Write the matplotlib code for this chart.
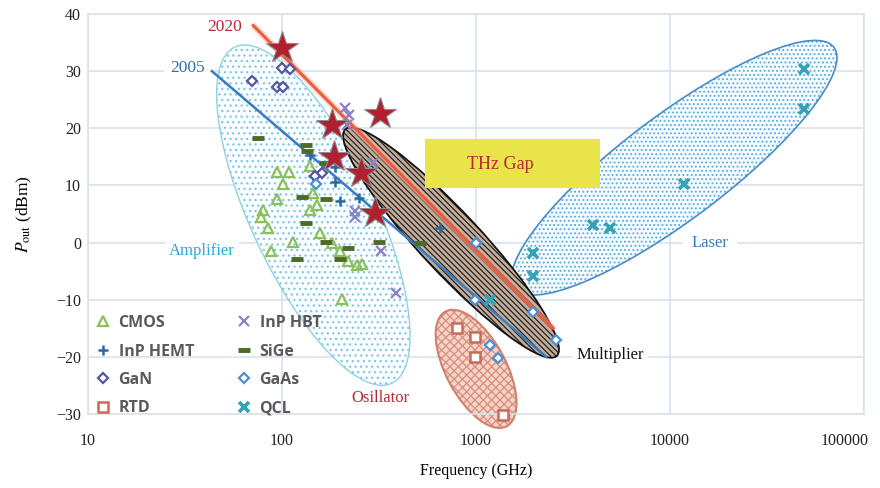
import numpy as np
import matplotlib
matplotlib.use("Agg")
from matplotlib import pyplot as plt
from matplotlib.patches import Ellipse, Rectangle
from matplotlib.transforms import ScaledTranslation

plt.rcParams['font.family'] = ['Liberation Serif', 'DejaVu Serif']
plt.rcParams['mathtext.fontset'] = 'stix'

# ---- data (frequency in GHz, output power in dBm) ----
cmos_f = [94, 109, 101, 94, 139, 144, 151, 139, 80, 78, 85, 157, 114, 180, 88, 199, 220, 243, 258, 203]
cmos_p = [12.3, 12.3, 10.2, 7.7, 13.4, 8.7, 6.6, 5.7, 5.7, 4.4, 2.6, 1.6, 0.1, 0.0, -1.4, -1.5, -3.2, -3.9, -3.8, -9.8]

hbt_f = [211, 221, 216, 296, 237, 237, 325, 387]
hbt_p = [23.5, 22.3, 20.6, 13.9, 5.5, 4.4, -1.4, -8.8]

hemt_f = [140, 187, 145, 187, 200, 250, 650]
hemt_p = [15.3, 13.3, 11.6, 10.6, 7.2, 7.8, 2.5]

sige_f = [75, 133, 135, 167, 127, 169, 133, 169, 220, 315, 119, 198, 514]
sige_p = [18.3, 17.1, 16.0, 13.9, 7.9, 7.7, 3.5, 0.1, -0.9, 0.1, -2.8, -2.9, 0.0]

gan_f = [70, 100, 110, 94, 101, 148, 160]
gan_p = [28.2, 30.5, 30.3, 27.2, 27.2, 11.7, 12.1]

gaas_f = [150, 1000, 990, 1960, 2580, 1180, 1290]
gaas_p = [10.3, 0.0, -10.0, -12.1, -17.0, -18.0, -20.2]

rtd_f = [795, 990, 990, 1380]
rtd_p = [-15.0, -16.6, -20.1, -30.1]

qcl_f = [1180, 4000, 4900, 1970, 1970, 11800, 49000, 49000]
qcl_p = [-10.0, 3.1, 2.6, -1.9, -5.9, 10.2, 30.3, 23.4]

star_f = [100, 180, 185, 320, 255, 300]
star_p = [34.0, 20.5, 15.0, 22.5, 12.2, 5.2]

trend2020_f = [71, 2500]
trend2020_p = [38.0, -15.0]
trend2005_f = [43.5, 2300]
trend2005_p = [30.0, -20.0]

xticks = [10, 100, 1000, 10000, 100000]
xtick_labels = ['10', '100', '1000', '10000', '100000']
yticks = [-30, -20, -10, 0, 10, 20, 30, 40]
ytick_labels = ['\u221230', '\u221220', '\u221210', '0', '10', '20', '30', '40']

fig = plt.figure(figsize=(8.8, 4.88), dpi=100)
ax = fig.add_axes([0.1, 0.1516, 0.882, 0.8197])
ax.set_xscale('log')
ax.set_xlim(10, 100000)
ax.set_ylim(-30, 40)
ax.set_xticks(xticks, labels=xtick_labels)
ax.minorticks_off()
ax.set_yticks(yticks, labels=ytick_labels)
ax.tick_params(length=0, labelsize=11.5, colors='#222222')
ax.tick_params(axis='x', pad=14)
ax.tick_params(axis='y', pad=5)
# last x label pulled left so it stays inside the picture
lab = ax.get_xticklabels()[-1]
lab.set_transform(lab.get_transform() + ScaledTranslation(-0.2, 0, fig.dpi_scale_trans))
ax.grid(True, color='#d8e2ec', lw=1.2)
ax.set_axisbelow(True)
for s in ax.spines.values():
    s.set_color('#d8e2ec')
    s.set_linewidth(1.2)
ax.set_xlabel('Frequency (GHz)', fontsize=11.5, labelpad=10)
ax.set_ylabel(r'$P_{\rm out}$ (dBm)', fontsize=12.5, labelpad=16)


def blob(f, p, w, h, ang, face, hatchc, hatch, edge, lw, z):
    tr = fig.dpi_scale_trans + ScaledTranslation(f, p, ax.transData)
    e1 = Ellipse((0, 0), w / 100, h / 100, angle=ang, transform=tr, facecolor=face,
                 edgecolor=hatchc, hatch=hatch, lw=0, zorder=z, clip_on=False)
    e2 = Ellipse((0, 0), w / 100, h / 100, angle=ang, transform=tr, fill=False,
                 edgecolor=edge, lw=lw, zorder=z, clip_on=False)
    ax.add_patch(e1)
    ax.add_patch(e2)


plt.rcParams['hatch.linewidth'] = 0.9
# Amplifier / Laser / Oscillator / Multiplier regions
blob(145, 4.8, 371, 125, -65, '#fbfdff', '#7cc8ea', '...', '#8fd2e6', 1.0, 1)
blob(10500, 13.1, 400, 104, 37, '#f6fbff', '#5aaee0', '....', '#4a8cc8', 1.2, 1)
blob(1000, -22.1, 130, 60, -62, '#f4d3c8', '#d98e7c', 'xxxx', '#d2806e', 1.5, 1)
blob(743, 0, 310, 60, -47, '#c4ae9b', '#222222', '\\\\\\\\\\\\', '#111111', 1.3, 2)

# trend lines
ax.plot(trend2020_f, trend2020_p, color='#f7b8a8', lw=5, alpha=0.5, zorder=3, solid_capstyle='butt')
ax.plot(trend2020_f, trend2020_p, color='#ef5a3c', lw=2.2, zorder=3)
ax.plot(trend2005_f, trend2005_p, color='#3a7cc2', lw=1.8, zorder=3)

ax.add_patch(Rectangle((546, 9.6), 4355 - 546, 18.2 - 9.6, facecolor='#e9e44a', edgecolor='none', zorder=2))
ax.text(1330, 13.6, 'THz Gap', color='#b8283a', fontsize=13, ha='center', va='center', zorder=4)

wb = dict(facecolor='white', edgecolor='none', pad=3)
ax.text(50.8, 37.7, '2020', color='#b8283a', fontsize=12.5, ha='center', va='center', bbox=wb, zorder=4)
ax.text(32.4, 30.6, '2005', color='#2f6fae', fontsize=12.5, ha='center', va='center',
        bbox=dict(facecolor='white', edgecolor='none', pad=4), zorder=4)
ax.text(38.7, -1.4, 'Amplifier', color='#29a8dc', fontsize=12, ha='center', va='center', bbox=wb, zorder=4)
ax.text(16100, 0, 'Laser', color='#3c7dbf', fontsize=12, ha='center', va='center',
        bbox=dict(facecolor='white', edgecolor='none', pad=6), zorder=4)
ax.text(4900, -19.7, 'Multiplier', color='#111111', fontsize=12, ha='center', va='center', bbox=wb, zorder=4)
ax.text(320, -27.2, 'Osillator', color='#b8283a', fontsize=12, ha='center', va='center', bbox=wb, zorder=4)

# device series
kw = dict(linestyle='none', zorder=5, clip_on=False)
h_cmos, = ax.plot(cmos_f, cmos_p, marker='^', ms=7.5, mfc='none', mec='#8dbf5b', mew=1.6, label='CMOS', **kw)
h_hemt, = ax.plot(hemt_f, hemt_p, marker='+', ms=7, mec='#2c68a6', mew=1.8, label='InP HEMT', **kw)
h_gan, = ax.plot(gan_f, gan_p, marker='D', ms=5, mfc='white', mec='#55569e', mew=1.6, label='GaN', **kw)
h_rtd, = ax.plot(rtd_f, rtd_p, marker='s', ms=7.5, mfc='white', mec='#c86a5c', mew=1.8, label='RTD', **kw)
h_hbt, = ax.plot(hbt_f, hbt_p, marker='x', ms=7, mec='#8e80c8', mew=1.6, label='InP HBT', **kw)
h_sige, = ax.plot(sige_f, sige_p, marker='_', ms=9, mec='#4d6b26', mew=3.5, label='SiGe', **kw)
h_gaas, = ax.plot(gaas_f, gaas_p, marker='D', ms=5, mfc='white', mec='#4a90d6', mew=1.6, label='GaAs', **kw)
h_qcl, = ax.plot(qcl_f, qcl_p, marker='x', ms=7, mec='#35a3b5', mew=2.6, label='QCL', **kw)

ax.plot(star_f, star_p, linestyle='none', marker='*', ms=24, mfc='#b0202e', mec='#8a8a8a', mew=0.8, zorder=6)

leg = ax.legend(handles=[h_cmos, h_hemt, h_gan, h_rtd, h_hbt, h_sige, h_gaas, h_qcl],
                ncol=2, loc='lower left', bbox_to_anchor=(-0.01, -0.042), frameon=False,
                prop=dict(family='Open Sans', weight='bold', size=11.5),
                handlelength=1.0, handletextpad=0.5, labelspacing=0.78, columnspacing=2.6)
for t in leg.get_texts():
    t.set_color('#5a5a5a')

fig.savefig('out.png', dpi=100)
